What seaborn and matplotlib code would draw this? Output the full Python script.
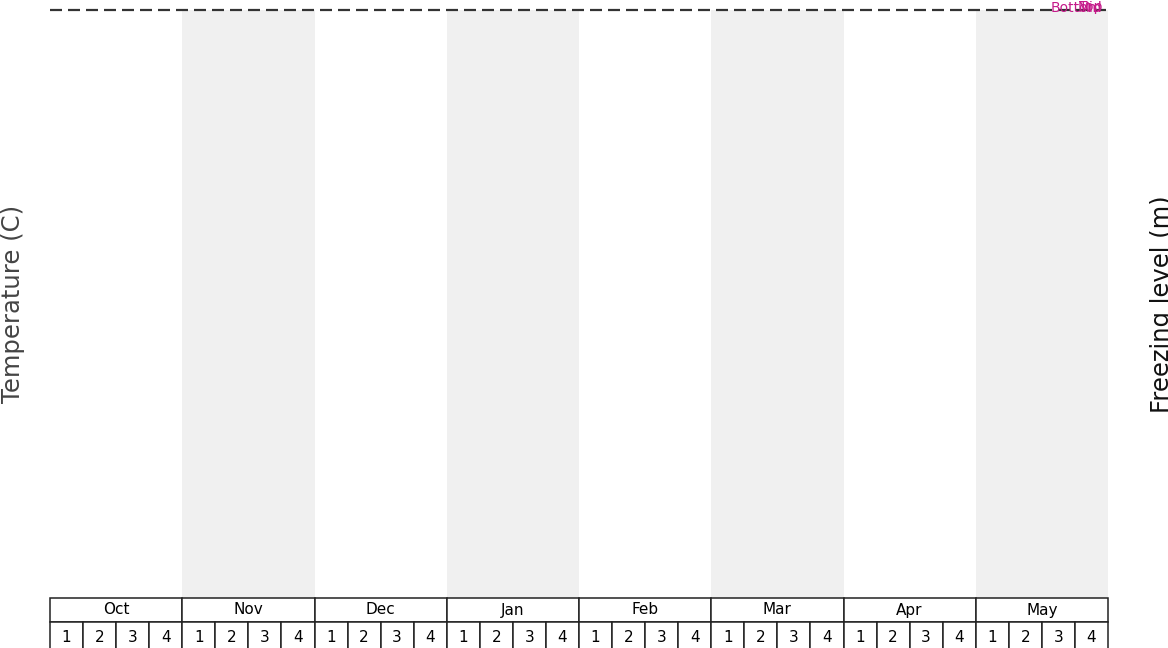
import matplotlib
matplotlib.use("Agg")
import matplotlib.pyplot as plt
import matplotlib.transforms as mtransforms
import seaborn as sns
import pandas as pd

sns.set_style("white")
plt.rcParams['font.family'] = ['DejaVu Sans']

# season layout: months and weeks within each month
months = ['Oct', 'Nov', 'Dec', 'Jan', 'Feb', 'Mar', 'Apr', 'May']
weeks = ['1', '2', '3', '4']
shaded_months = ['Nov', 'Jan', 'Mar', 'May']

# freezing reference line (no temperature data recorded)
freeze_x = [0, 32]
freeze_y = [0, 0]

# elevation labels at the end of the line
band_labels = ['Bottom', 'Mid', 'Top']

n_weeks = len(months) * len(weeks)

fig = plt.figure(figsize=(11.68, 6.48), dpi=100)
W, H = 1168, 648
ax = fig.add_axes([50 / W, 50 / H, 1058 / W, 588 / H])

for i, m in enumerate(months):
    if m in shaded_months:
        ax.axvspan(i * len(weeks), (i + 1) * len(weeks), color='#f0f0f0', lw=0, zorder=0)

df = pd.DataFrame({'week': freeze_x, 'temp': freeze_y})
sns.lineplot(data=df, x='week', y='temp', ax=ax, color='#333333', lw=1.6,
             clip_on=False, zorder=3)
ax.lines[-1].set_dashes([5.4, 2.7])

ax.set_xlim(0, n_weeks)
ax.set_ylim(-20, 0)
off = mtransforms.offset_copy(ax.transData, fig=fig, x=0, y=-1.5, units='dots')
for lab in band_labels:
    ax.text(n_weeks - 0.18, 0, lab, ha='right', va='baseline', fontsize=10,
            color='#c51b8a', clip_on=False, transform=off, zorder=4)

ax.set_xticks([])
ax.set_yticks([])
ax.set_xlabel('')
for s in ax.spines.values():
    s.set_visible(False)
ax.set_ylabel('Temperature (C)', fontsize=17.5, color='#444444', labelpad=18)

ax2 = ax.twinx()
ax2.set_yticks([])
for s in ax2.spines.values():
    s.set_visible(False)
ax2.set_ylabel('Freezing level (m)', fontsize=17.5, color='#111111', labelpad=30)

# month / week table under the plot
t1 = ax.table(cellText=[months], cellLoc='center', bbox=[0, -24 / 588, 1, 24 / 588])
t2 = ax.table(cellText=[weeks * len(months)], cellLoc='center', bbox=[0, -54 / 588, 1, 30 / 588])
for t in (t1, t2):
    t.auto_set_font_size(False)
    t.set_fontsize(11)
    for cell in t.get_celld().values():
        cell.set_edgecolor('#222222')
        cell.set_linewidth(1.1)
        cell.set_facecolor('white')
        cell.get_text().set_color('black')

fig.savefig('out.png', dpi=100)
